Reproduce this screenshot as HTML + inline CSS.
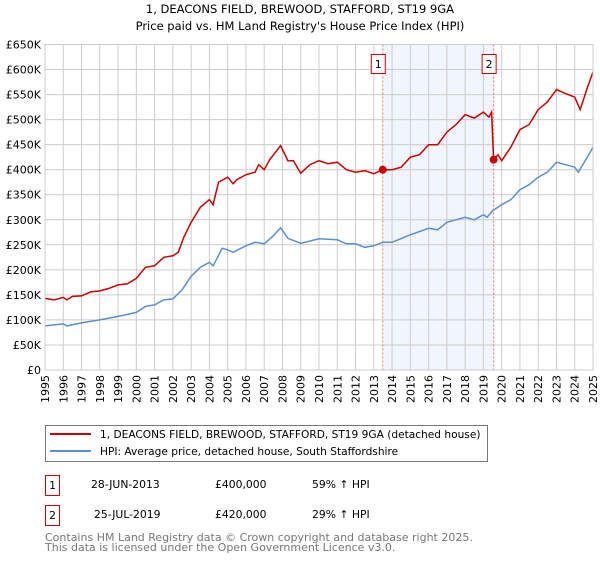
<!DOCTYPE html>
<html><head><meta charset="utf-8"><style>
body{margin:0;background:#fff;font-family:"DejaVu Sans","Liberation Sans",sans-serif;}
svg text{font-family:"DejaVu Sans","Liberation Sans",sans-serif;}
</style></head><body>
<svg id="c" width="600" height="560" xmlns="http://www.w3.org/2000/svg">
<text x="300" y="13" text-anchor="middle" font-size="11.5">1, DEACONS FIELD, BREWOOD, STAFFORD, ST19 9GA</text>
<text x="300" y="30" text-anchor="middle" font-size="11.5">Price paid vs. HM Land Registry's House Price Index (HPI)</text>
<g id="plot"></g>
<rect x="45.5" y="425.5" width="442" height="36" fill="none" stroke="#777"/>
<line x1="50" y1="434" x2="91" y2="434" stroke="#cc0000" stroke-width="2"/>
<text x="100" y="438" font-size="10.6">1, DEACONS FIELD, BREWOOD, STAFFORD, ST19 9GA (detached house)</text>
<line x1="50" y1="451" x2="91" y2="451" stroke="#5b8fd0" stroke-width="2"/>
<text x="100" y="455" font-size="10.6">HPI: Average price, detached house, South Staffordshire</text>
<g font-size="10.8">
<rect x="45.5" y="475.5" width="14" height="20" fill="none" stroke="#cc0000"/>
<text x="52.5" y="489" text-anchor="middle">1</text>
<text x="91" y="488">28-JUN-2013</text>
<text x="215" y="488">£400,000</text>
<text x="312" y="488">59% ↑ HPI</text>
<rect x="45.5" y="505.5" width="14" height="20" fill="none" stroke="#cc0000"/>
<text x="52.5" y="519" text-anchor="middle">2</text>
<text x="94" y="518">25-JUL-2019</text>
<text x="215" y="518">£420,000</text>
<text x="312" y="518">29% ↑ HPI</text>
</g>
<text x="45" y="541" font-size="11" fill="#777">Contains HM Land Registry data © Crown copyright and database right 2025.</text>
<text x="45" y="551" font-size="11" fill="#777">This data is licensed under the Open Government Licence v3.0.</text>
</svg>
<script>
const redYears=[1995,1995.5,1996,1996.2,1996.5,1997,1997.5,1998,1998.5,1999,1999.5,2000,2000.5,2001,2001.5,2002,2002.3,2002.6,2003,2003.5,2004,2004.2,2004.5,2005,2005.3,2005.5,2006,2006.5,2006.7,2007,2007.3,2007.9,2008.3,2008.6,2009,2009.5,2010,2010.5,2011,2011.5,2012,2012.5,2013,2013.49,2014,2014.5,2015,2015.5,2016,2016.5,2017,2017.5,2018,2018.5,2019,2019.3,2019.45,2019.56,2019.8,2020,2020.5,2021,2021.5,2022,2022.5,2023,2023.5,2024,2024.3,2024.7,2025];
const redValues=[143,140,145,140,147,148,156,158,163,170,172,183,205,208,225,228,235,265,295,325,340,330,375,385,372,380,390,395,410,400,420,448,418,418,393,410,418,412,415,400,395,398,392,400,400,405,425,430,450,450,475,490,510,503,515,505,515,420,430,418,445,480,490,520,535,560,552,545,520,565,595];
const hpiYears=[1995,1996,1996.2,1997,1998,1999,2000,2000.5,2001,2001.5,2002,2002.5,2003,2003.5,2004,2004.2,2004.7,2005,2005.3,2006,2006.5,2007,2007.5,2007.9,2008.3,2009,2010,2011,2011.5,2012,2012.5,2013,2013.5,2014,2015,2016,2016.5,2017,2018,2018.5,2019,2019.2,2019.5,2020,2020.5,2021,2021.5,2022,2022.5,2023,2023.5,2024,2024.2,2024.6,2025];
const hpiValues=[88,92,88,94,100,107,115,127,130,140,142,160,187,205,215,208,243,240,235,248,255,252,268,284,263,253,262,260,252,252,245,248,255,255,270,283,280,295,305,300,310,305,318,330,340,360,370,385,395,415,410,405,395,420,445];
const saleYears=[2013.49,2019.56];
const saleValues=[400,420];
const saleLabels=["1","2"];
const yTicks=[0,50,100,150,200,250,300,350,400,450,500,550,600,650];
const yTickLabels=["£0","£50K","£100K","£150K","£200K","£250K","£300K","£350K","£400K","£450K","£500K","£550K","£600K","£650K"];
const xTicks=[1995,1996,1997,1998,1999,2000,2001,2002,2003,2004,2005,2006,2007,2008,2009,2010,2011,2012,2013,2014,2015,2016,2017,2018,2019,2020,2021,2022,2023,2024,2025];

const X0=45,X1=593,Y0=370,Y1=44.5;
const xs=v=>X0+(v-1995)/30*(X1-X0);
const ys=v=>Y0-v/650*(Y0-Y1);
const NS="http://www.w3.org/2000/svg";
const g=document.getElementById('plot');
function mk(t,a){const e=document.createElementNS(NS,t);for(const k in a)e.setAttribute(k,a[k]);g.appendChild(e);return e;}
const bg=mk('rect',{x:X0,y:Y1,width:X1-X0,height:Y0-Y1,fill:'#fff'});


const sh=mk('rect',{x:xs(saleYears[0]),y:Y1,width:xs(saleYears[1])-xs(saleYears[0]),height:Y0-Y1,fill:'#eef3fd',opacity:0.8});


yTicks.forEach((t,i)=>{
 const l=mk('line',{x1:X0,x2:X1,y1:ys(t),y2:ys(t),stroke:'#ccc','stroke-width':1});
 
 
 const tx=mk('text',{x:X0-4,y:ys(t)+4,'text-anchor':'end','font-size':11});
 tx.textContent=yTickLabels[i];
 
 
});
xTicks.forEach(t=>{
 const l=mk('line',{x1:xs(t),x2:xs(t),y1:Y1,y2:Y0,stroke:'#ccc','stroke-width':1});
 
 
 const tx=mk('text',{x:0,y:0,'font-size':11,'text-anchor':'end',transform:`translate(${xs(t)+4},${Y0+5}) rotate(-90)`});
 tx.textContent=t;
 
 
});
saleYears.forEach((s,i)=>{
 const l=mk('line',{x1:xs(s),x2:xs(s),y1:Y1,y2:Y0,stroke:'#f07070','stroke-dasharray':'2,2','stroke-width':1});
 
 
});
function path(xv,yv,col,name){
 const p=mk('path',{d:xv.map((x,i)=>(i?'L':'M')+xs(x).toFixed(1)+','+ys(yv[i]).toFixed(1)).join(''),fill:'none',stroke:col,'stroke-width':1.5});
 
 
}
path(hpiYears,hpiValues,'#5b8fd0','hpi-line');
path(redYears,redValues,'#cc0000','property-price-line');
saleYears.forEach((s,i)=>{
 const c=mk('circle',{cx:xs(s),cy:ys(saleValues[i]),r:4,fill:'#cc0000'});
 
 
 const b=mk('rect',{x:xs(s)-11.5,y:54.5,width:14,height:19,fill:'#fff',stroke:'#cc0000'});
 
 
 const t=mk('text',{x:xs(s)-4.5,y:68,'text-anchor':'middle','font-size':11});
 t.textContent=saleLabels[i];
 
 
});
const fr=mk('rect',{x:X0,y:Y1,width:X1-X0,height:Y0-Y1,fill:'none',stroke:'#ccc'});


</script>
</body></html>
